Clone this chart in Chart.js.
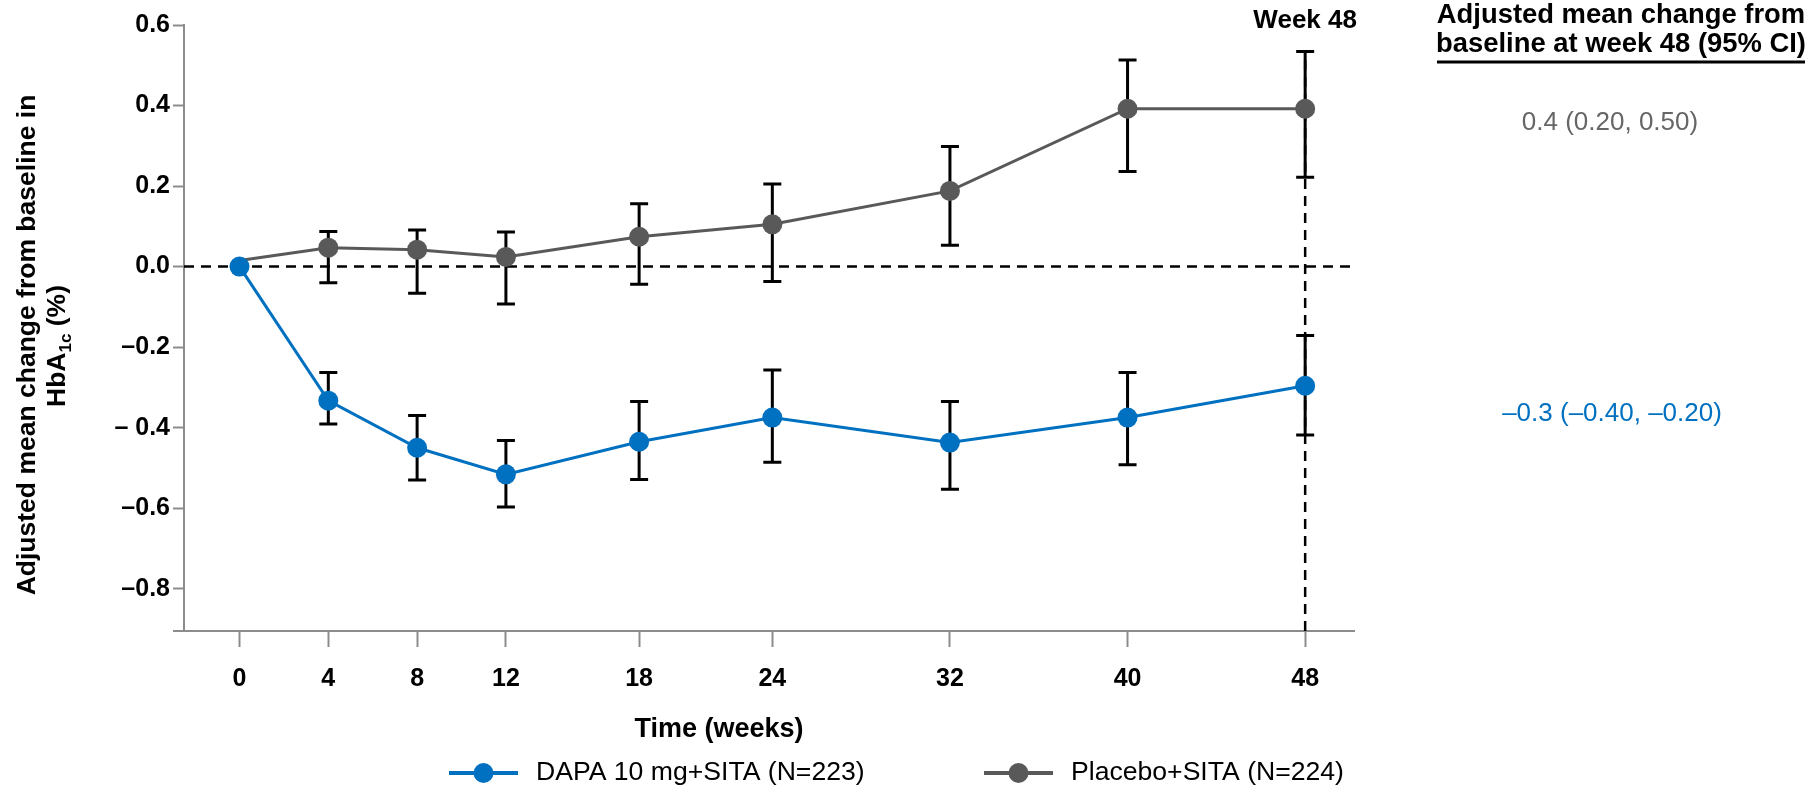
<!DOCTYPE html>
<html>
<head>
<meta charset="utf-8">
<script src="https://cdn.jsdelivr.net/npm/chart.js@4.4.1/dist/chart.umd.min.js"></script>
<style>
    html, body { margin: 0; padding: 0; background: #fff; }
    #wrap { width: 1814px; height: 786px; position: relative; }
</style>
</head>
<body>
<div id="wrap"><canvas id="chart"></canvas></div>
<script>
const weeks = [0, 4, 8, 12, 18, 24, 32, 40, 48];
const xTickLabels = ['0', '4', '8', '12', '18', '24', '32', '40', '48'];

const dapaMean = [0.0, -0.333, -0.450, -0.516, -0.435, -0.375, -0.437, -0.375, -0.296];
const dapaLower = [null, -0.391, -0.530, -0.597, -0.529, -0.486, -0.553, -0.492, -0.418];
const dapaUpper = [null, -0.263, -0.370, -0.432, -0.335, -0.257, -0.335, -0.263, -0.171];

const placeboMean = [0.015, 0.047, 0.042, 0.024, 0.074, 0.105, 0.188, 0.392, 0.392];
const placeboLower = [null, -0.040, -0.066, -0.093, -0.044, -0.037, 0.053, 0.236, 0.222];
const placeboUpper = [null, 0.087, 0.091, 0.086, 0.156, 0.205, 0.298, 0.513, 0.534];

const yTickValues = [0.6, 0.4, 0.2, 0.0, -0.2, -0.4, -0.6, -0.8];
const yTickLabels = ['0.6', '0.4', '0.2', '0.0', '\u20130.2', '\u2013 0.4', '\u20130.6', '\u20130.8'];

const seriesNames = ['DAPA 10 mg+SITA (N=223)', 'Placebo+SITA (N=224)'];
const week48Results = ['\u20130.3 (\u20130.40, \u20130.20)', '0.4 (0.20, 0.50)'];

const BLUE = '#0070C0';
const GREY = '#595959';
const AXIS = '#8c8c8c';
const FONT = '"Liberation Sans", Arial, Helvetica, sans-serif';

const toPoints = values => values.map((v, i) => ({ x: weeks[i], y: v }));

// error bars, reference lines and all the loose text
const extras = {
    id: 'extras',
    beforeDatasetsDraw(chart) {
        const ctx = chart.ctx;
        const x = chart.scales.x;
        const y = chart.scales.y;
        const area = chart.chartArea;

        ctx.save();
        ctx.strokeStyle = '#000';
        ctx.lineWidth = 2.5;
        ctx.setLineDash([10, 7]);
        ctx.beginPath();
        ctx.moveTo(area.left, y.getPixelForValue(0));
        ctx.lineTo(area.right, y.getPixelForValue(0));
        const x48 = x.getPixelForValue(48);
        ctx.moveTo(x48, area.bottom);
        ctx.lineTo(x48, y.getPixelForValue(placeboUpper[placeboUpper.length - 1]));
        ctx.stroke();
        ctx.setLineDash([]);

        ctx.lineWidth = 3;
        const bars = [[dapaLower, dapaUpper], [placeboLower, placeboUpper]];
        bars.forEach(([lo, hi]) => {
            weeks.forEach((w, i) => {
                if (lo[i] === null) return;
                const px = x.getPixelForValue(w);
                const y1 = y.getPixelForValue(lo[i]);
                const y2 = y.getPixelForValue(hi[i]);
                ctx.beginPath();
                ctx.moveTo(px, y1);
                ctx.lineTo(px, y2);
                ctx.moveTo(px - 9, y1);
                ctx.lineTo(px + 9, y1);
                ctx.moveTo(px - 9, y2);
                ctx.lineTo(px + 9, y2);
                ctx.stroke();
            });
        });
        ctx.restore();
    },
    afterDraw(chart) {
        const ctx = chart.ctx;
        const x = chart.scales.x;
        const area = chart.chartArea;
        ctx.save();

        // x axis runs a little past the y axis
        ctx.strokeStyle = AXIS;
        ctx.lineWidth = 2;
        ctx.beginPath();
        ctx.moveTo(area.left - 11, area.bottom);
        ctx.lineTo(area.left, area.bottom);
        ctx.stroke();

        ctx.fillStyle = '#000';
        ctx.textBaseline = 'middle';
        ctx.textAlign = 'center';
        ctx.font = 'bold 27px ' + FONT;
        ctx.fillText('Time (weeks)', 719, 730);

        ctx.font = 'bold 26px ' + FONT;
        ctx.fillText('Week 48', x.getPixelForValue(48), 21);

        // y title, rotated, second line with subscript
        ctx.save();
        ctx.textBaseline = 'alphabetic';
        ctx.translate(35, 345);
        ctx.rotate(-Math.PI / 2);
        ctx.font = 'bold 26.5px ' + FONT;
        ctx.textAlign = 'center';
        ctx.fillText('Adjusted mean change from baseline in', 0, 0);
        ctx.restore();

        ctx.save();
        ctx.textBaseline = 'alphabetic';
        ctx.translate(65, 346);
        ctx.rotate(-Math.PI / 2);
        ctx.textAlign = 'left';
        const big = 'bold 26.5px ' + FONT;
        const small = 'bold 17px ' + FONT;
        ctx.font = big;
        const w1 = ctx.measureText('HbA').width;
        const w3 = ctx.measureText(' (%)').width;
        ctx.font = small;
        const w2 = ctx.measureText('1c').width;
        let cx = -(w1 + w2 + w3) / 2;
        ctx.font = big;
        ctx.fillText('HbA', cx, 0);
        cx += w1;
        ctx.font = small;
        ctx.fillText('1c', cx, 6);
        cx += w2;
        ctx.font = big;
        ctx.fillText(' (%)', cx, 0);
        ctx.restore();

        // week 48 summary on the right
        ctx.textAlign = 'center';
        ctx.font = 'bold 27.4px ' + FONT;
        ctx.fillText('Adjusted mean change from', 1621, 15);
        ctx.fillText('baseline at week 48 (95% CI)', 1621, 44);
        ctx.strokeStyle = '#000';
        ctx.lineWidth = 3;
        ctx.beginPath();
        ctx.moveTo(1437, 62);
        ctx.lineTo(1805, 62);
        ctx.stroke();

        ctx.font = '26px ' + FONT;
        ctx.fillStyle = '#666666';
        ctx.fillText(week48Results[1], 1610, 123);
        ctx.fillStyle = BLUE;
        ctx.fillText(week48Results[0], 1612, 414);

        // legend
        ctx.textAlign = 'left';
        ctx.font = '26.6px ' + FONT;
        const legendStarts = [449, 984];
        chart.data.datasets.forEach((ds, i) => {
            const lx = legendStarts[i];
            const ly = 773;
            ctx.strokeStyle = ds.borderColor;
            ctx.lineWidth = 4;
            ctx.beginPath();
            ctx.moveTo(lx, ly);
            ctx.lineTo(lx + 69, ly);
            ctx.stroke();
            ctx.fillStyle = ds.backgroundColor;
            ctx.beginPath();
            ctx.arc(lx + 34.5, ly, 10, 0, Math.PI * 2);
            ctx.fill();
            ctx.fillStyle = '#000';
            ctx.fillText(ds.label, lx + 87, ly);
        });

        ctx.restore();
    }
};

const ctx = document.getElementById('chart').getContext('2d');

new Chart(ctx, {
    type: 'line',
    data: {
        datasets: [
            {
                label: seriesNames[0],
                data: toPoints(dapaMean),
                borderColor: BLUE,
                backgroundColor: BLUE,
                borderWidth: 3,
                pointRadius: 10,
                pointBorderWidth: 0,
                pointBackgroundColor: BLUE
            },
            {
                label: seriesNames[1],
                data: toPoints(placeboMean),
                borderColor: GREY,
                backgroundColor: GREY,
                borderWidth: 3,
                // baseline point sits under the blue one
                pointRadius: c => (c.dataIndex === 0 ? 0 : 10),
                pointBorderWidth: 0,
                pointBackgroundColor: GREY
            }
        ]
    },
    options: {
        responsive: true,
        maintainAspectRatio: false,
        animation: false,
        layout: {
            padding: { left: 0, right: 460, top: 25, bottom: 0 }
        },
        plugins: {
            legend: { display: false },
            tooltip: { enabled: false }
        },
        scales: {
            x: {
                type: 'linear',
                min: -2.5,
                max: 50.2,
                afterBuildTicks: scale => {
                    scale.ticks = weeks.map(v => ({ value: v }));
                },
                afterFit: scale => {
                    scale.height = 155;
                },
                ticks: {
                    autoSkip: false,
                    maxRotation: 0,
                    padding: 17,
                    color: '#000',
                    font: { family: FONT, size: 25, weight: 'bold' },
                    callback: (value) => xTickLabels[weeks.indexOf(value)]
                },
                grid: {
                    drawOnChartArea: false,
                    drawTicks: true,
                    tickLength: 16,
                    tickWidth: 2,
                    tickColor: AXIS
                },
                border: { display: true, color: AXIS, width: 2 }
            },
            y: {
                min: -0.905,
                max: 0.6,
                afterBuildTicks: scale => {
                    scale.ticks = yTickValues.map(v => ({ value: v }));
                },
                afterFit: scale => {
                    scale.width = 184;
                },
                ticks: {
                    autoSkip: false,
                    padding: 3,
                    color: '#000',
                    font: { family: FONT, size: 25, weight: 'bold' },
                    callback: (value) => {
                        const i = yTickValues.findIndex(v => Math.abs(v - value) < 1e-9);
                        return i >= 0 ? yTickLabels[i] : '';
                    }
                },
                grid: {
                    drawOnChartArea: false,
                    drawTicks: true,
                    tickLength: 11,
                    tickWidth: 2,
                    tickColor: AXIS
                },
                border: { display: true, color: AXIS, width: 2 }
            }
        }
    },
    plugins: [extras]
});
</script>
</body>
</html>
